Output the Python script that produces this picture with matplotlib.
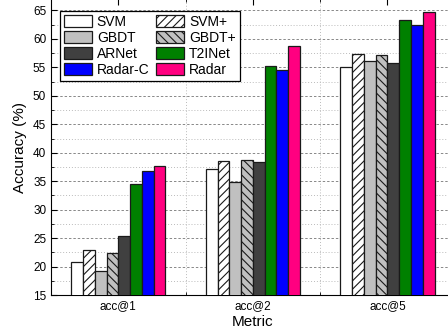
import matplotlib.pyplot as plt
import numpy as np
from matplotlib.ticker import MultipleLocator, FixedLocator

plt.rcParams['font.family'] = ['Liberation Sans', 'DejaVu Sans']
plt.rcParams['hatch.linewidth'] = 0.8

metrics = ['acc@1', 'acc@2', 'acc@5']
methods = ['SVM', 'SVM+', 'GBDT', 'GBDT+', 'ARNet', 'T2INet', 'Radar-C', 'Radar']

svm = [20.9, 37.1, 55.1]
svm_plus = [22.9, 38.5, 57.4]
gbdt = [19.2, 34.8, 56.2]
gbdt_plus = [22.4, 38.7, 57.1]
arnet = [25.4, 38.4, 55.7]
t2inet = [34.5, 55.3, 63.3]
radar_c = [36.8, 54.5, 62.5]
radar = [37.6, 58.8, 64.7]

values = [svm, svm_plus, gbdt, gbdt_plus, arnet, t2inet, radar_c, radar]
faces = ['white', 'white', '#c0c0c0', '#c0c0c0', '#404040', '#008000', '#0000ff', '#ff0080']
hatches = ['', '////', '', '\\\\\\\\', '', '', '', '']

fig = plt.figure(figsize=(4.48, 3.35), dpi=100)
ax = fig.add_axes([0.114, 0.119, 0.901, 0.884])

x = np.arange(1, len(metrics) + 1)
w = 0.0875
bars = []
for i, (name, vals) in enumerate(zip(methods, values)):
    b = ax.bar(x + (i - 3.5) * w, vals, w, color=faces[i], hatch=hatches[i],
               edgecolor='#1a1a1a', linewidth=0.9, label=name, zorder=3)
    bars.append(b)

ax.set_xlim(0.5, 3.5)
ax.set_ylim(15, 67)
ax.set_xticks(x)
ax.set_xticklabels(metrics)
ax.xaxis.set_minor_locator(FixedLocator([1.5, 2.5]))
ax.yaxis.set_major_locator(MultipleLocator(5))
ax.yaxis.set_minor_locator(MultipleLocator(2.5))
ax.tick_params(which='both', direction='in', top=True, right=True, labelsize=8.5)
ax.tick_params(which='major', length=4)
ax.tick_params(which='minor', length=2)

ax.grid(which='major', axis='y', linestyle=(0, (2.5, 2)), color='#888888', linewidth=0.7, zorder=0)
ax.grid(which='minor', axis='y', linestyle=(0, (1, 2)), color='#bbbbbb', linewidth=0.7, zorder=0)
ax.grid(which='minor', axis='x', linestyle=(0, (1, 2)), color='#bbbbbb', linewidth=0.7, zorder=0)

ax.set_ylabel('Accuracy (%)', fontsize=11, labelpad=4)
ax.set_xlabel('Metric', fontsize=11, labelpad=2)

# legend filled row by row: SVM, SVM+ / GBDT, GBDT+ / ...
order = [0, 2, 4, 6, 1, 3, 5, 7]
leg = ax.legend([bars[k] for k in order], [methods[k] for k in order],
                ncol=2, loc='upper left', bbox_to_anchor=(0.022, 0.96), fontsize=10,
                frameon=True, fancybox=False, edgecolor='black', framealpha=1,
                handlelength=2.0, handleheight=0.95, labelspacing=0.15,
                columnspacing=0.5, handletextpad=0.35, borderpad=0.3, borderaxespad=0)
leg.get_frame().set_linewidth(0.9)

fig.savefig('out.png', dpi=100)
